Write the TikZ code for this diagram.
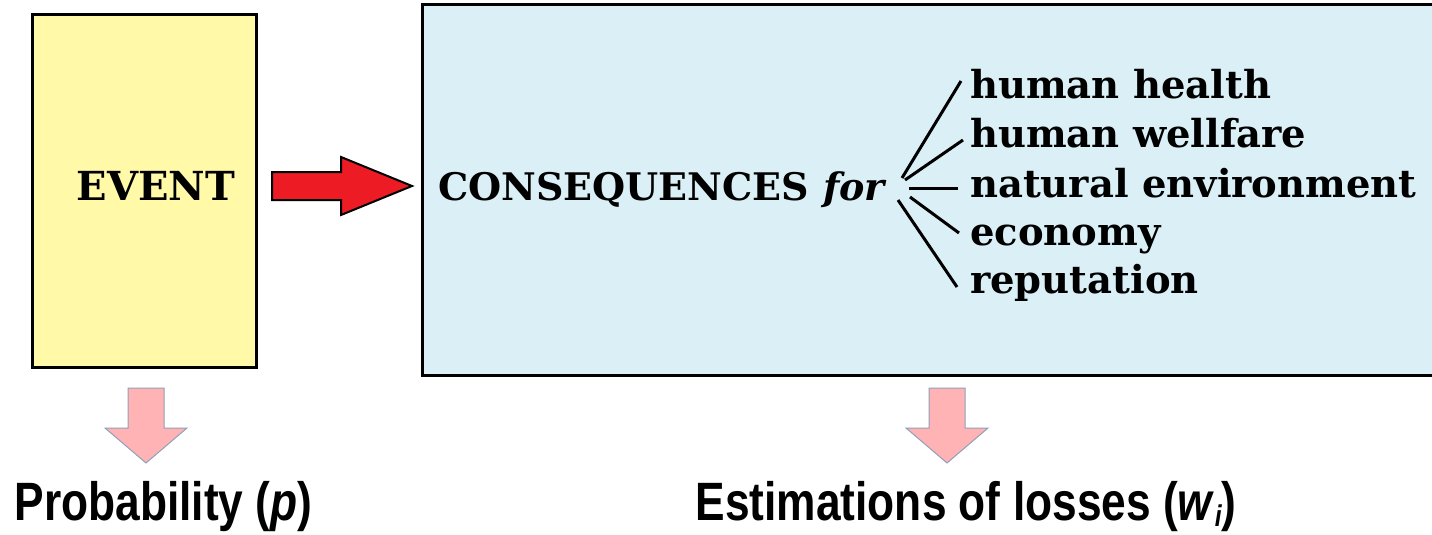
\documentclass[tikz,border=0pt]{standalone}
\usepackage{fontspec}
\setmainfont{DejaVu Serif}
\newfontfamily\labelfont[FakeStretch=0.82]{Liberation Sans}
\usetikzlibrary{calc}

\definecolor{eventfill}{HTML}{FFF9A8}
\definecolor{consfill}{HTML}{DAF0F6}
\definecolor{arrowred}{HTML}{ED1C24}
\definecolor{pinkfill}{HTML}{FFB3B5}
\definecolor{pinkedge}{HTML}{8FA0B8}

\tikzset{
  panel/.style={draw=black, line width=3pt, inner sep=0pt},
  headword/.style={font=\fontsize{38}{38}\selectfont\bfseries, inner sep=0pt},
  itemtext/.style={font=\fontsize{38.5}{38.5}\selectfont\bfseries, inner sep=0pt, anchor=base west},
  fanline/.style={line width=3pt},
  flowshape/.style={draw=black, fill=arrowred, line width=2pt, line join=miter},
  downshape/.style={draw=pinkedge, fill=pinkfill, line width=1pt},
  result/.style={font=\labelfont\fontsize{54}{54}\selectfont\bfseries, inner sep=0pt, anchor=base}
}

\begin{document}
\begin{tikzpicture}[x=1pt,y=-1pt]
\useasboundingbox (0,0) rectangle (1432,535);

% the two panels
\node[panel, fill=eventfill, minimum width=224pt, minimum height=352pt] (event) at (144,191) {};
\node[panel, fill=consfill, minimum width=1023pt, minimum height=370pt] (cons) at (933.5,190) {};

\node[headword, font=\fontsize{40}{40}\selectfont\bfseries] (evtext) at (156,186) {EVENT};
\node[headword, anchor=base west] (constext) at (438,200) {CONSEQUENCES};
\node[inner sep=0pt, anchor=base west, font=\fontsize{38}{38}\selectfont\itshape\bfseries] (for) at (823,200) {for};

% the affected areas
\node[itemtext] (h1) at (970,99) {human health};
\node[itemtext] (h2) at (970,147) {human wellfare};
\node[itemtext] (h3) at (970,197) {natural environment};
\node[itemtext] (h4) at (970,245) {economy};
\node[itemtext] (h5) at (970,293) {reputation};

% fan of lines from "for" to each area
\coordinate (f1) at (902,178);
\coordinate (f2) at (905,180);
\coordinate (f3) at (909,188);
\coordinate (f4) at (910,197);
\coordinate (f5) at (898,200);
\draw[fanline] (f1) -- ($(h1.base west)+(-9,-18)$);
\draw[fanline] (f2) -- ($(h2.base west)+(-7,-7)$);
\draw[fanline] (f3) -- ($(h3.base west)+(-12,-9)$);
\draw[fanline] (f4) -- ($(h4.base west)+(-11,-12)$);
\draw[fanline] (f5) -- ($(h5.base west)+(-13,-6)$);

% block arrow: event leads to consequences
\coordinate (flowtail) at (272,186);
\draw[flowshape] (flowtail) ++(0,-14) -- ++(69,0) -- ++(0,-15) -- ++(71,29)
  -- ++(-71,29) -- ++(0,-15) -- ++(-69,0) -- cycle;

% downward block arrows to the two measures
\coordinate (ptop) at (146,388);
\coordinate (wtop) at (947,388);
\foreach \t in {ptop,wtop}
  \draw[downshape] (\t) ++(-18,0) -- ++(36,0) -- ++(0,40) -- ++(23,0)
    -- ++(-41,35) -- ++(-41,-35) -- ++(23,0) -- cycle;

\node[result] (prob) at (163.5,520) {Probability (\textit{p})};
\node[result] (loss) at (966,520) {Estimations of losses (\textit{w}\raisebox{-0.12em}{\fontsize{30}{30}\selectfont\itshape i})};
\end{tikzpicture}
\end{document}
